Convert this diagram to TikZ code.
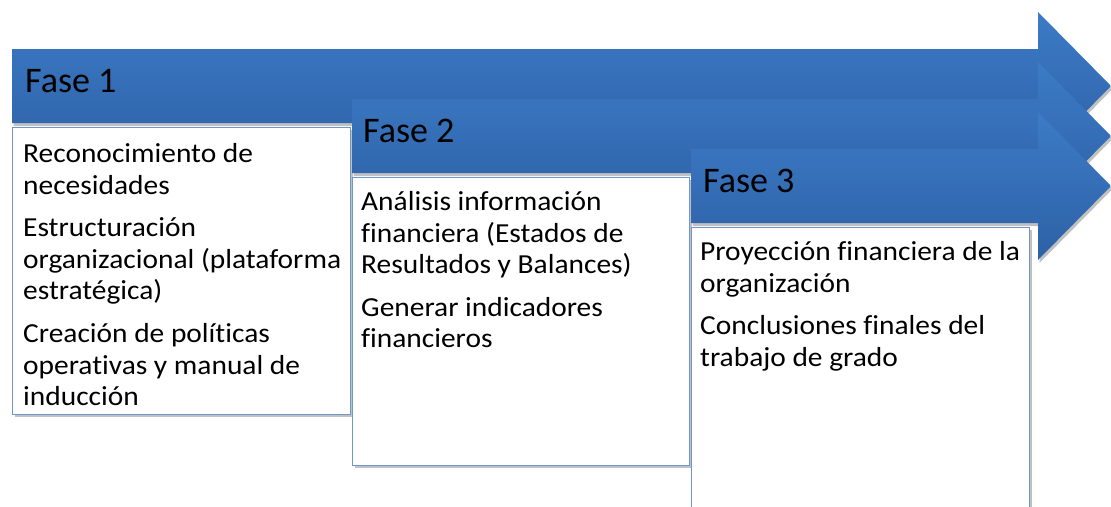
\documentclass[tikz,border=0pt]{standalone}
\usepackage{fontspec}
\setmainfont[Ligatures=NoCommon]{Carlito}
\newfontfamily\bodyfont[Ligatures=NoCommon, FakeStretch=1.07]{Carlito}
\usetikzlibrary{shadows}
\definecolor{arrtop}{RGB}{60,123,198}
\definecolor{arrbot}{RGB}{45,97,166}
\definecolor{boxline}{RGB}{110,150,205}
\tikzset{
  phasearrow/.style={top color=arrtop, bottom color=arrbot, draw=none,
    drop shadow={shadow xshift=1.5pt, shadow yshift=-3pt, opacity=0.35, fill=black!70}},
  phasebox/.style={rectangle, draw=boxline, line width=0.9pt, fill=white, anchor=north west,
    inner sep=0pt, drop shadow={shadow xshift=2.5pt, shadow yshift=-3pt, opacity=0.35, fill=black!70}},
  phasetitle/.style={anchor=base west, inner sep=0pt, font=\fontsize{36}{43}\selectfont, text=black},
  phasetext/.style={anchor=north west, inner sep=0pt, align=left, font=\bodyfont\fontsize{27.5}{31.8}\selectfont, text=black}
}
\newcommand{\firstline}{\rule{0pt}{24pt}}
\begin{document}
\begin{tikzpicture}[x=1pt,y=1pt]
\useasboundingbox (0,0) rectangle (1111,-506);
% Phase 1
\path[phasearrow] (12,-49) -- (1038,-49) -- (1038,-12) -- (1111,-86) -- (1038,-160) -- (1038,-123) -- (12,-123) -- cycle;
\node[phasebox, minimum width=338pt, minimum height=287pt] (b1) at (12,-127) {};
\node[phasetitle] (t1) at (25,-92) {Fase 1};
\node[phasetext] (x1) at (23,-138) {\firstline Reconocimiento de\\ necesidades\\[10.5pt]
Estructuración\\ organizacional (plataforma\\ estratégica)\\[10.5pt]
Creación de políticas\\ operativas y manual de\\ inducción};
% Phase 2
\path[phasearrow] (352,-99) -- (1038,-99) -- (1038,-62) -- (1111,-136) -- (1038,-210) -- (1038,-173) -- (352,-173) -- cycle;
\node[phasebox, minimum width=337pt, minimum height=288pt] (b2) at (352,-177) {};
\node[phasetitle] (t2) at (363,-142) {Fase 2};
\node[phasetext] (x2) at (361,-186) {\firstline Análisis información\\ financiera (Estados de\\ Resultados y Balances)\\[10.5pt]
Generar indicadores\\ financieros};
% Phase 3
\path[phasearrow] (691,-149) -- (1038,-149) -- (1038,-112) -- (1111,-186) -- (1038,-260) -- (1038,-223) -- (691,-223) -- cycle;
\node[phasebox, minimum width=338pt, minimum height=290pt] (b3) at (691,-227) {};
\node[phasetitle] (t3) at (703,-192) {Fase 3};
\node[phasetext] (x3) at (700,-236) {\firstline Proyección financiera de la\\ organización\\[10.5pt]
Conclusiones finales del\\ trabajo de grado};
\end{tikzpicture}
\end{document}
